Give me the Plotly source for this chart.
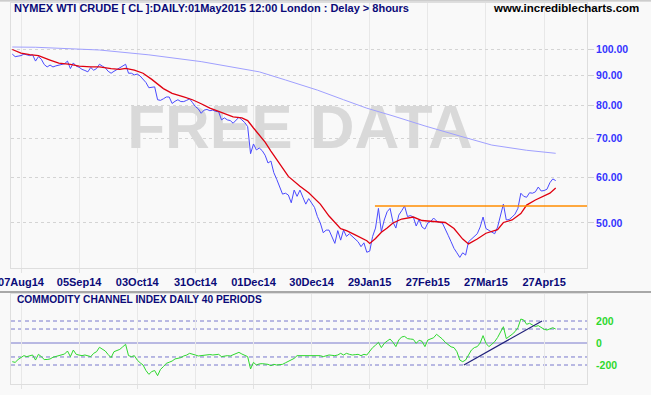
import plotly.graph_objects as go

# ---------------- data ----------------
# trading-day index (0 = 07Aug14); first bar is 3 days earlier
day_index = list(range(-3, 185))

close_price = [
    98.0, 97.0, 97.2, 97.4, 98.0, 97.8, 97.4, 97.7, 95.3, 97.0,
    96.0, 94.0, 93.1, 93.8, 93.1, 93.5, 93.8, 94.0, 94.3, 95.3,
    92.5, 94.6, 93.4, 93.0, 92.2, 91.8, 91.3, 92.9, 91.9, 92.5,
    94.1, 93.4, 92.8, 91.5, 90.8, 91.5, 92.2, 92.8, 93.6, 94.1,
    90.8, 90.8, 90.2, 90.5, 89.8, 88.8, 87.5, 85.7, 85.9, 86.0,
    81.7, 81.5, 82.0, 82.6, 82.6, 80.5, 81.2, 81.7, 81.1, 81.1,
    81.5, 82.0, 80.8, 79.5, 78.8, 77.4, 78.4, 78.6, 78.2, 78.4,
    78.0, 77.9, 75.4, 76.0, 75.4, 75.2, 74.4, 75.4, 76.2, 75.4,
    74.6, 73.4, 65.9, 68.5, 66.9, 67.4, 66.7, 65.5, 63.5, 64.0,
    61.1, 59.5, 57.9, 56.1, 56.3, 55.9, 54.2, 57.0, 55.6, 57.0,
    55.4, 53.9, 55.1, 54.0, 53.2, 51.3, 50.0, 48.1, 48.6, 48.6,
    47.4, 46.1, 48.5, 46.7, 48.6, 47.4, 47.9, 47.4, 46.9, 46.4,
    45.5, 46.2, 44.5, 44.7, 47.4, 49.0, 53.0, 48.3, 50.6, 52.3,
    53.0, 50.2, 49.0, 51.6, 52.5, 53.5, 51.3, 51.5, 51.2, 49.4,
    50.7, 49.2, 48.8, 50.0, 50.3, 51.0, 50.4, 50.1, 50.0, 48.6,
    47.6, 46.4, 45.2, 44.4, 43.6, 44.4, 44.0, 46.4, 46.9, 47.4,
    47.9, 49.2, 51.2, 48.9, 48.6, 48.3, 47.9, 49.2, 51.6, 53.9,
    50.6, 50.7, 51.2, 51.8, 53.0, 56.3, 55.6, 55.4, 56.4, 56.3,
    56.6, 57.7, 56.8, 56.9, 57.2, 58.7, 59.6, 59.2,
]

short_ma_index = [-3, 0, 3, 6, 10, 13, 17, 20, 24, 27, 31, 34, 36, 39, 42, 45,
                  49, 52, 56, 59, 62, 65, 68, 73, 76, 78, 80, 82, 84, 86, 89, 92,
                  96, 99, 103, 106, 110, 112, 115, 119, 120, 122, 124, 126, 128,
                  131, 135, 138, 142, 146, 149, 152, 154, 157, 160, 164, 166, 169,
                  172, 174, 177, 180, 182, 184]
short_ma = [99.8, 98.4, 97.8, 97.4, 95.7, 94.5, 94.1, 93.4, 93.1, 93.1, 92.5,
            92.2, 92.6, 91.9, 90.8, 88.6, 85.4, 83.8, 82.6, 81.7, 80.4, 79.0,
            78.0, 76.3, 76.0, 75.2, 73.0, 71.0, 69.0, 66.6, 63.2, 60.2, 57.9,
            56.4, 53.9, 51.4, 48.9, 48.5, 47.7, 46.6, 46.1, 47.0, 48.2, 49.0,
            50.0, 50.8, 51.2, 50.5, 50.3, 50.1, 48.9, 46.9, 46.0, 46.9, 48.0,
            48.7, 50.1, 50.6, 51.9, 53.7, 54.8, 55.7, 56.3, 57.5]

long_ma_index = [-3, 5, 27, 44, 62, 73, 82, 91, 102, 111, 119, 128, 139, 151, 162, 174, 184]
long_ma = [100.8, 100.7, 99.6, 97.7, 95.1, 93.1, 91.3, 88.4, 84.9, 81.7, 79.0,
           76.6, 73.6, 70.7, 68.2, 66.8, 66.0]

cci_40 = [
    -170, -176, -150, -133, -115, -124, -115, -109, -155, -103,
    -124, -150, -150, -145, -130, -124, -115, -109, -100, -73,
    -124, -64, -103, -110, -115, -109, -120, -124, -94, -79,
    -39, -60, -73, -105, -133, -79, -70, -58, -35, -12,
    -115, -124, -115, -155, -180, -200, -250, -285, -260, -250,
    -297, -240, -215, -185, -175, -164, -145, -140, -133, -118,
    -110, -94, -105, -109, -118, -115, -110, -103, -105, -109,
    -105, -103, -124, -118, -115, -118, -105, -94, -85, -100,
    -109, -124, -236, -176, -200, -190, -188, -192, -194, -206,
    -194, -200, -198, -194, -180, -164, -150, -140, -115, -115,
    -115, -115, -115, -112, -113, -115, -115, -124, -115, -109,
    -112, -115, -109, -94, -109, -94, -103, -109, -106, -103,
    -115, -103, -109, -73, -42, -20, 6, -42, -3, 18,
    36, 6, -33, 27, 55, 60, 40, 36, 33, -3,
    25, 15, -33, 27, 35, 48, 79, 58, 36, 6,
    -18, -35, -42, -79, -155, -170, -155, -109, -64, -42,
    -33, 0, 67, -3, -33, -12, 12, 50, 103, 148,
    40, 58, 79, 103, 139, 218, 209, 170, 179, 164,
    150, 158, 140, 125, 118, 127, 139, 127,
]

resistance_level = 53.5
resistance_start = 121.8
cci_trend_index = [152.4, 179.3]
cci_trend_value = [-200, 200]
cci_bands = [200, 127, -127, -200]

tick_index = [0, 20, 40, 60, 80, 100, 120, 140, 160, 180]
tick_labels = ["07Aug14", "05Sep14", "03Oct14", "31Oct14", "01Dec14",
               "30Dec14", "29Jan15", "27Feb15", "27Mar15", "27Apr15"]
price_ticks = [50, 60, 70, 80, 90, 100]
price_tick_labels = ["50.00", "60.00", "70.00", "80.00", "90.00", "100.00"]
cci_ticks = [200, 0, -200]
cci_tick_labels = ["200", "0", "-200"]

# ---------------- figure ----------------
X_RANGE = [-3.44, 194.77]
BG = "#f9f9f9"
NAVY = "#0a0a78"
FONT = "Liberation Sans, Arial, sans-serif"

fig = go.Figure()

# watermark (beneath the lines)
fig.add_trace(go.Scatter(
    x=[96.0], y=[71.74], mode="text", text=["FREE DATA"],
    textposition="middle center",
    textfont=dict(family=FONT, size=62, color="#d9d9d9", weight="bold"),
    hoverinfo="skip", showlegend=False, xaxis="x", yaxis="y"))

fig.add_trace(go.Scatter(x=long_ma_index, y=long_ma, mode="lines",
                         line=dict(color="#a0a0ff", width=1), showlegend=False,
                         xaxis="x", yaxis="y"))
fig.add_trace(go.Scatter(x=day_index, y=close_price, mode="lines",
                         line=dict(color="#4a4aff", width=1), showlegend=False,
                         xaxis="x", yaxis="y"))
fig.add_trace(go.Scatter(x=short_ma_index, y=short_ma, mode="lines",
                         line=dict(color="#e00010", width=1.3), showlegend=False,
                         xaxis="x", yaxis="y"))
fig.add_trace(go.Scatter(x=[resistance_start, X_RANGE[1]],
                         y=[resistance_level, resistance_level], mode="lines",
                         line=dict(color="#ff8c00", width=1.5), showlegend=False,
                         xaxis="x", yaxis="y"))

# CCI panel
for lvl in cci_bands:
    fig.add_shape(type="line", xref="x2 domain", yref="y2", x0=0, x1=1, y0=lvl, y1=lvl,
                  line=dict(color="#7878cc", width=1, dash="4px,3px"), layer="below")
fig.add_shape(type="line", xref="x2 domain", yref="y2", x0=0, x1=1, y0=0, y1=0,
              line=dict(color="#7878cc", width=1), layer="below")
fig.add_trace(go.Scatter(x=day_index, y=cci_40, mode="lines",
                         line=dict(color="#2ed82e", width=1), showlegend=False,
                         xaxis="x2", yaxis="y2"))
fig.add_trace(go.Scatter(x=cci_trend_index, y=cci_trend_value, mode="lines",
                         line=dict(color="#20207a", width=1.2), showlegend=False,
                         xaxis="x2", yaxis="y2"))

# separator line between panels and top border
fig.add_shape(type="line", xref="paper", yref="paper", x0=-0.03, x1=1.12,
              y0=0.2415, y1=0.2415, line=dict(color="#a8a8a8", width=2))
fig.add_shape(type="line", xref="paper", yref="paper", x0=-0.03, x1=1.12,
              y0=1.0055, y1=1.0055, line=dict(color="#b0b0b0", width=1))

fig.add_annotation(xref="paper", yref="paper", x=0.0017, y=0.9869, xanchor="left",
                   yanchor="middle", showarrow=False,
                   text="NYMEX WTI CRUDE [ CL ]:DAILY:01May2015 12:00 London : Delay > 8hours",
                   font=dict(family=FONT, size=11, color=NAVY, weight="bold"))
fig.add_annotation(xref="paper", yref="paper", x=1.0938, y=0.9869, xanchor="right",
                   yanchor="middle", showarrow=False, text="www.incrediblecharts.com",
                   font=dict(family=FONT, size=11.5, color="#000000", weight="bold"))
fig.add_annotation(xref="paper", yref="paper", x=0.0069, y=0.2205, xanchor="left",
                   yanchor="middle", showarrow=False,
                   text="COMMODITY CHANNEL INDEX DAILY 40 PERIODS",
                   font=dict(family=FONT, size=10.2, color=NAVY, weight="bold"))

fig.update_layout(
    width=651, height=395, autosize=False,
    margin=dict(l=11, r=64, t=3, b=11, autoexpand=False),
    paper_bgcolor=BG, plot_bgcolor=BG, showlegend=False,
    xaxis=dict(domain=[0, 1], range=X_RANGE, anchor="y", tickmode="array",
               tickvals=tick_index, ticktext=tick_labels, ticks="outside",
               ticklen=4, tickcolor="#e2e2e2", showgrid=True, gridcolor="#e8e8e8",
               zeroline=False, showline=True, linecolor="#dedede", mirror=True,
               ticklabeloverflow="allow", automargin=False,
               tickfont=dict(family=FONT, size=11, color=NAVY, weight="bold")),
    yaxis=dict(domain=[0.30446, 1], type="log", range=[1.6211, 2.0796], side="right",
               anchor="x", tickmode="array", tickvals=price_ticks,
               ticktext=price_tick_labels, ticks="outside", ticklen=6,
               tickcolor="#d0d0d0", showgrid=True, gridcolor="#d4d4d4",
               griddash="dot", zeroline=False, showline=True, linecolor="#dedede",
               mirror=True, automargin=False,
               tickfont=dict(family=FONT, size=10.5, color="#3434ff", weight="bold")),
    xaxis2=dict(domain=[0, 1], range=X_RANGE, anchor="y2", tickmode="array",
                tickvals=tick_index, showticklabels=False, ticks="outside",
                ticklen=4, tickcolor="#e2e2e2", showgrid=True, gridcolor="#e8e8e8",
                zeroline=False, showline=True, linecolor="#dedede", mirror=True,
                automargin=False),
    yaxis2=dict(domain=[0, 0.23622], range=[-372.7, 445.5], side="right",
                anchor="x2", tickmode="array", tickvals=cci_ticks,
                ticktext=cci_tick_labels, ticks="outside", ticklen=6, tickcolor=BG,
                showgrid=False, zeroline=False, showline=True, linecolor="#dedede",
                mirror=True, automargin=False,
                tickfont=dict(family=FONT, size=10.5, color="#2ed82e", weight="bold")),
)

fig.write_html("out.html", config={"displayModeBar": False},
               post_script="document.body.style.margin='0px';document.body.style.background='#f9f9f9';")
